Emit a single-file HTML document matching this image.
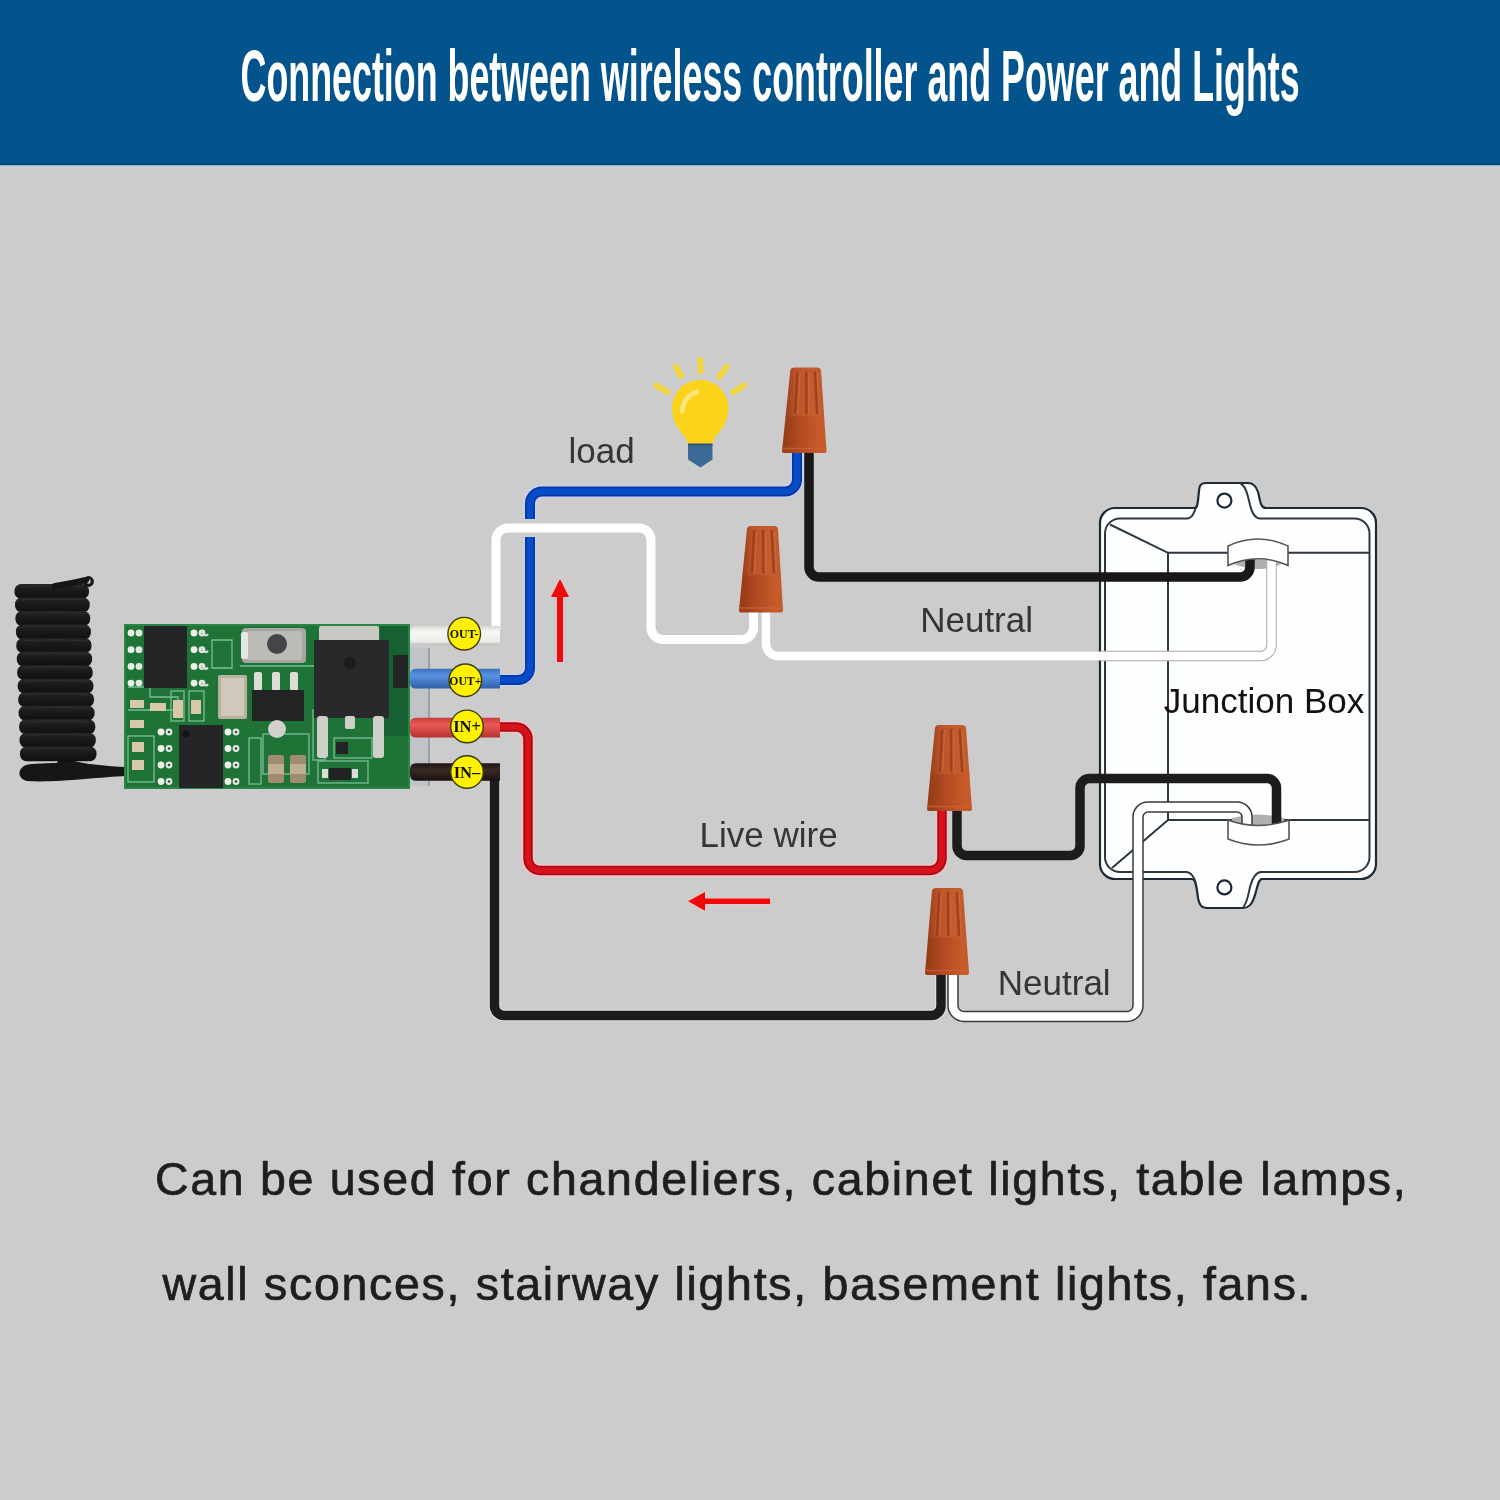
<!DOCTYPE html>
<html><head><meta charset="utf-8">
<style>
html,body{margin:0;padding:0;width:1500px;height:1500px;overflow:hidden;background:#cccccc;}
svg{position:absolute;left:0;top:0;display:block;will-change:transform;}
</style></head><body>
<svg width="1500" height="1500" viewBox="0 0 1500 1500">
<defs>
<linearGradient id="coneT" x1="0" x2="1" y1="0" y2="0">
<stop offset="0" stop-color="#9a3c18"/><stop offset="0.25" stop-color="#b9532a"/><stop offset="0.7" stop-color="#c45c2e"/><stop offset="1" stop-color="#c05a2c"/>
</linearGradient>
<linearGradient id="coneB" x1="0" x2="1" y1="0" y2="0">
<stop offset="0" stop-color="#953a17"/><stop offset="0.4" stop-color="#b04a22"/><stop offset="0.85" stop-color="#c85b2a"/><stop offset="1" stop-color="#c4592a"/>
</linearGradient>
<linearGradient id="tubeW" x1="0" x2="0" y1="0" y2="1"><stop offset="0" stop-color="#d8d8d4"/><stop offset="0.3" stop-color="#f7f7f5"/><stop offset="0.8" stop-color="#ecece8"/><stop offset="1" stop-color="#b8b8b4"/></linearGradient>
<linearGradient id="tubeB" x1="0" x2="0" y1="0" y2="1"><stop offset="0" stop-color="#3a70c0"/><stop offset="0.35" stop-color="#5a92e0"/><stop offset="1" stop-color="#2f5fa8"/></linearGradient>
<linearGradient id="tubeR" x1="0" x2="0" y1="0" y2="1"><stop offset="0" stop-color="#c83a3a"/><stop offset="0.35" stop-color="#ea5a58"/><stop offset="1" stop-color="#b83030"/></linearGradient>
<linearGradient id="tubeK" x1="0" x2="0" y1="0" y2="1"><stop offset="0" stop-color="#1e1412"/><stop offset="0.4" stop-color="#3a2a26"/><stop offset="1" stop-color="#1a100e"/></linearGradient>
<linearGradient id="coil" x1="0" x2="0" y1="0" y2="1"><stop offset="0" stop-color="#262626"/><stop offset="0.45" stop-color="#191919"/><stop offset="1" stop-color="#101010"/></linearGradient>
</defs>
<rect x="0" y="0" width="1500" height="165" fill="#03538d"/>
<rect x="0" y="163" width="1500" height="2.5" fill="#03497c"/>
<rect x="0" y="165.5" width="1500" height="2" fill="#c4d3de"/>
<text transform="translate(240.5,101) scale(0.493,1)" font-family="Liberation Sans" font-weight="bold" font-size="72.7" fill="#ffffff">Connection between wireless controller and Power and Lights</text>
<path d="M1115,508 H1195 C1199,508 1198,490 1200,486 C1201,484 1203,483 1206,483 H1248 C1253,483 1256,486 1258,492 C1260,499 1260,508 1266,508 H1361 A15,15 0 0 1 1376,523 V864 A15,15 0 0 1 1361,879 H1262 C1258,879 1257,890 1254,898 C1252,904 1249,908 1243,908 H1206 C1201,908 1199,904 1198,898 C1197,890 1196,879 1192,879 H1115 A15,15 0 0 1 1100,864 V523 A15,15 0 0 1 1115,508 Z" fill="#fdfefe" stroke="#1d2a36" stroke-width="2.2"/>
<path d="M1120,518.5 H1187 C1192,518.5 1195,512 1196,506" fill="none" stroke="#2e3740" stroke-width="2"/>
<path d="M1240,483 C1246,486 1248,496 1250,505 C1252,513 1255,518.5 1260,518.5 H1354 A15,15 0 0 1 1369.5,533.5 V857 A15,15 0 0 1 1354.5,872 H1261 C1255,872 1252,880 1250,887 C1248,896 1247,904 1243,907" fill="none" stroke="#2e3740" stroke-width="2"/>
<path d="M1120,518.5 A15,15 0 0 0 1105,533.5 V857 A15,15 0 0 0 1120,872 H1186 C1191,872 1195,878 1196,884" fill="none" stroke="#2e3740" stroke-width="2"/>
<circle cx="1224.4" cy="500.6" r="7" fill="none" stroke="#1d2a36" stroke-width="2.2"/>
<circle cx="1224.4" cy="887.4" r="7" fill="none" stroke="#1d2a36" stroke-width="2.2"/>
<path d="M1110,524.5 L1168,552.8 H1369.5 M1168,552.8 V820 H1369.5 M1168,820 L1112,868" fill="none" stroke="#2e3740" stroke-width="2"/>
<text x="1163.8" y="713" font-family="Liberation Sans" font-size="35" fill="#111111">Junction Box</text>
<path d="M1232,563 Q1258,575 1284,563 Q1258,556 1232,563 Z" fill="#b0b0b0"/>
<path d="M1232,818 Q1258,811 1284,818 V826 Q1258,832 1232,826 Z" fill="#b0b0b0"/>
<path d="M490,680 H518 A12,12 0 0 0 530,668 V503.5 A12,12 0 0 1 542,491.5 H785 A12,12 0 0 0 797,479.5 V450" fill="none" stroke="#c6d4f2" stroke-width="13" stroke-linejoin="round" />
<path d="M490,680 H518 A12,12 0 0 0 530,668 V503.5 A12,12 0 0 1 542,491.5 H785 A12,12 0 0 0 797,479.5 V450" fill="none" stroke="#0c34a4" stroke-width="10" stroke-linejoin="round" />
<path d="M490,680 H518 A12,12 0 0 0 530,668 V503.5 A12,12 0 0 1 542,491.5 H785 A12,12 0 0 0 797,479.5 V450" fill="none" stroke="#044cc8" stroke-width="6.5" stroke-linejoin="round" />
<path d="M809,450 V567 A10,10 0 0 0 819,577 H1240 A10,10 0 0 0 1250,567 V558" fill="none" stroke="#181818" stroke-width="9.5" stroke-linejoin="round" />
<rect x="522" y="519" width="16" height="18" fill="#cccccc"/>
<path d="M496,630 V540 A12,12 0 0 1 508,528 H639 A12,12 0 0 1 651,540 V627.5 A12,12 0 0 0 663,639.5 H741.5 A12,12 0 0 0 753.5,627.5 V608" fill="none" stroke="#ffffff" stroke-width="9" stroke-linejoin="round" />
<path d="M1100,656 H1260 A11,11 0 0 0 1271.5,645 V560" fill="none" stroke="#a8a8a8" stroke-width="10.5" stroke-linejoin="round" />
<path d="M766,608 V644 A12,12 0 0 0 778,656 H1260 A11,11 0 0 0 1271.5,645 V560" fill="none" stroke="#ffffff" stroke-width="8.5" stroke-linejoin="round" />
<path d="M490,727 H516 A12,12 0 0 1 528,739 V858.5 A12,12 0 0 0 540,870.5 H930 A12,12 0 0 0 942,858.5 V808" fill="none" stroke="#f0c4c4" stroke-width="13.5" stroke-linejoin="round" />
<path d="M490,727 H516 A12,12 0 0 1 528,739 V858.5 A12,12 0 0 0 540,870.5 H930 A12,12 0 0 0 942,858.5 V808" fill="none" stroke="#a20c18" stroke-width="9.5" stroke-linejoin="round" />
<path d="M490,727 H516 A12,12 0 0 1 528,739 V858.5 A12,12 0 0 0 540,870.5 H930 A12,12 0 0 0 942,858.5 V808" fill="none" stroke="#d8111a" stroke-width="6" stroke-linejoin="round" />
<path d="M494.5,772 V1006 A9.5,9.5 0 0 0 504,1015.5 H931.5 A9.5,9.5 0 0 0 941,1006 V972" fill="none" stroke="#e2e2e2" stroke-width="11.5" stroke-linejoin="round" />
<path d="M494.5,772 V1006 A9.5,9.5 0 0 0 504,1015.5 H931.5 A9.5,9.5 0 0 0 941,1006 V972" fill="none" stroke="#1c1c1c" stroke-width="9.5" stroke-linejoin="round" />
<path d="M953,972 V1005.5 A11,11 0 0 0 964,1016.5 H1127 A11,11 0 0 0 1138,1005.5 V817 A10,10 0 0 1 1148,807 H1237 A10,10 0 0 1 1247,817 V825" fill="none" stroke="#3a3a3a" stroke-width="11.5" stroke-linejoin="round" />
<path d="M953,972 V1005.5 A11,11 0 0 0 964,1016.5 H1127 A11,11 0 0 0 1138,1005.5 V817 A10,10 0 0 1 1148,807 H1237 A10,10 0 0 1 1247,817 V825" fill="none" stroke="#ffffff" stroke-width="8.5" stroke-linejoin="round" />
<path d="M957,808 V846 A9.5,9.5 0 0 0 966.5,855.5 H1070.5 A9.5,9.5 0 0 0 1080,846 V788 A9.5,9.5 0 0 1 1089.5,778.5 H1267 A9.5,9.5 0 0 1 1276.5,788 V826" fill="none" stroke="#1c1c1c" stroke-width="9.5" stroke-linejoin="round" />
<path d="M1228,546 Q1258,532 1288,546 V565.5 Q1258,552 1228,565.5 Z" fill="#ffffff" stroke="#555" stroke-width="1.6"/>
<path d="M1228,820 Q1258,831 1289,820 V839 Q1258,851 1228,839 Z" fill="#ffffff" stroke="#555" stroke-width="1.6"/>
<path d="M790.3,370.5 Q790.8,367.5 794.3,367.5 H817.0 Q820.5,367.5 821.0,370.5 L824.2,417.2 L785.5,417.2 Z" fill="url(#coneT)"/>
<path d="M785.6,416.2 H824.1 L826.5,451.0 Q826.5,453.0 824.5,453.0 H784.0 Q782.0,453.0 782.0,451.0 Z" fill="url(#coneB)"/>
<path d="M782.4,448.5 H826.2" stroke="#cf6434" stroke-width="1.6" opacity="0.7"/>
<path d="M797.4,372.5 L795.2,413.2" stroke="#973d19" stroke-width="2.6" stroke-linecap="round" opacity="0.8"/>
<path d="M799.8,373.5 L797.6,413.2" stroke="#d46c3c" stroke-width="1.6" stroke-linecap="round" opacity="0.6"/>
<path d="M806.3,372.5 L806.4,413.2" stroke="#973d19" stroke-width="2.6" stroke-linecap="round" opacity="0.8"/>
<path d="M808.7,373.5 L808.8,413.2" stroke="#d46c3c" stroke-width="1.6" stroke-linecap="round" opacity="0.6"/>
<path d="M814.9,372.5 L817.2,413.2" stroke="#973d19" stroke-width="2.6" stroke-linecap="round" opacity="0.8"/>
<path d="M817.3,373.5 L819.6,413.2" stroke="#d46c3c" stroke-width="1.6" stroke-linecap="round" opacity="0.6"/>
<path d="M747.0,529.0 Q747.5,526.0 751.0,526.0 H774.0 Q777.5,526.0 778.0,529.0 L780.9,576.3 L742.3,576.3 Z" fill="url(#coneT)"/>
<path d="M742.4,575.3 H780.9 L783.0,610.5 Q783.0,612.5 781.0,612.5 H741.0 Q739.0,612.5 739.0,610.5 Z" fill="url(#coneB)"/>
<path d="M739.4,608.0 H782.7" stroke="#cf6434" stroke-width="1.6" opacity="0.7"/>
<path d="M754.1,531.0 L752.1,572.3" stroke="#973d19" stroke-width="2.6" stroke-linecap="round" opacity="0.8"/>
<path d="M756.5,532.0 L754.5,572.3" stroke="#d46c3c" stroke-width="1.6" stroke-linecap="round" opacity="0.6"/>
<path d="M763.1,531.0 L763.3,572.3" stroke="#973d19" stroke-width="2.6" stroke-linecap="round" opacity="0.8"/>
<path d="M765.5,532.0 L765.7,572.3" stroke="#d46c3c" stroke-width="1.6" stroke-linecap="round" opacity="0.6"/>
<path d="M771.8,531.0 L774.0,572.3" stroke="#973d19" stroke-width="2.6" stroke-linecap="round" opacity="0.8"/>
<path d="M774.2,532.0 L776.4,572.3" stroke="#d46c3c" stroke-width="1.6" stroke-linecap="round" opacity="0.6"/>
<path d="M935.0,728.0 Q935.5,725.0 939.0,725.0 H962.0 Q965.5,725.0 966.0,728.0 L969.5,775.0 L930.3,775.0 Z" fill="url(#coneT)"/>
<path d="M930.4,774.0 H969.4 L972.0,809.0 Q972.0,811.0 970.0,811.0 H929.0 Q927.0,811.0 927.0,809.0 Z" fill="url(#coneB)"/>
<path d="M927.4,806.5 H971.7" stroke="#cf6434" stroke-width="1.6" opacity="0.7"/>
<path d="M942.1,730.0 L940.0,771.0" stroke="#973d19" stroke-width="2.6" stroke-linecap="round" opacity="0.8"/>
<path d="M944.5,731.0 L942.4,771.0" stroke="#d46c3c" stroke-width="1.6" stroke-linecap="round" opacity="0.6"/>
<path d="M951.1,730.0 L951.3,771.0" stroke="#973d19" stroke-width="2.6" stroke-linecap="round" opacity="0.8"/>
<path d="M953.5,731.0 L953.7,771.0" stroke="#d46c3c" stroke-width="1.6" stroke-linecap="round" opacity="0.6"/>
<path d="M959.8,730.0 L962.2,771.0" stroke="#973d19" stroke-width="2.6" stroke-linecap="round" opacity="0.8"/>
<path d="M962.2,731.0 L964.6,771.0" stroke="#d46c3c" stroke-width="1.6" stroke-linecap="round" opacity="0.6"/>
<path d="M932.0,891.0 Q932.5,888.0 936.0,888.0 H959.0 Q962.5,888.0 963.0,891.0 L966.5,938.6 L927.9,938.6 Z" fill="url(#coneT)"/>
<path d="M928.0,937.6 H966.4 L969.0,973.0 Q969.0,975.0 967.0,975.0 H927.0 Q925.0,975.0 925.0,973.0 Z" fill="url(#coneB)"/>
<path d="M925.4,970.5 H968.7" stroke="#cf6434" stroke-width="1.6" opacity="0.7"/>
<path d="M939.1,893.0 L937.1,934.6" stroke="#973d19" stroke-width="2.6" stroke-linecap="round" opacity="0.8"/>
<path d="M941.5,894.0 L939.5,934.6" stroke="#d46c3c" stroke-width="1.6" stroke-linecap="round" opacity="0.6"/>
<path d="M948.1,893.0 L948.3,934.6" stroke="#973d19" stroke-width="2.6" stroke-linecap="round" opacity="0.8"/>
<path d="M950.5,894.0 L950.7,934.6" stroke="#d46c3c" stroke-width="1.6" stroke-linecap="round" opacity="0.6"/>
<path d="M956.8,893.0 L959.0,934.6" stroke="#973d19" stroke-width="2.6" stroke-linecap="round" opacity="0.8"/>
<path d="M959.2,894.0 L961.4,934.6" stroke="#d46c3c" stroke-width="1.6" stroke-linecap="round" opacity="0.6"/>
<path d="M557,662 V597 H551 L560,579 L569,597 H563 V662 Z" fill="#ee0a0a" stroke="#f3c4c4" stroke-width="1.4" stroke-linejoin="round" paint-order="stroke"/>
<path d="M770,898.5 H705 V892 L688,901.3 L705,910.7 V904 H770 Z" fill="#ee0a0a" stroke="#f3c4c4" stroke-width="1.4" stroke-linejoin="round" paint-order="stroke"/>
<g stroke="#f2d53c" stroke-width="6" stroke-linecap="round"><line x1="700.4" y1="360" x2="700.4" y2="371"/><line x1="676" y1="367" x2="681" y2="376"/><line x1="726.5" y1="367" x2="719.5" y2="376.5"/><line x1="656.5" y1="385.5" x2="667.5" y2="392"/><line x1="744" y1="385.5" x2="733.5" y2="392"/></g>
<path d="M688,444 C686,434 672,428 672,408 A28.2,28.2 0 0 1 728.4,408 C728.4,428 714,434 712.5,444 Z" fill="#fbd31a"/>
<path d="M682,411 Q684,396 697,392" fill="none" stroke="#fde57e" stroke-width="4.5" stroke-linecap="round"/>
<path d="M688,444 H712.5 V459.5 L700.4,467.5 L688,459.5 Z" fill="#3b6a97"/>
<rect x="688" y="443.5" width="24.5" height="1.6" fill="#2f4f6a"/>
<g font-family="Liberation Sans" font-size="35" fill="#353535"><text x="568.5" y="462.7">load</text><text x="920.2" y="632.4">Neutral</text><text x="699.5" y="846.7">Live wire</text><text x="997.8" y="995">Neutral</text></g>
<g font-family="Liberation Sans" font-size="46.5" fill="#1e1e1e" stroke="#1e1e1e" stroke-width="0.7" letter-spacing="1.7"><text x="155" y="1195.2">Can be used for chandeliers, cabinet lights, table lamps,</text><text x="162.5" y="1300">wall sconces, stairway lights, basement lights, fans.</text></g>
<path d="M126,767 C105,767 85,762 55,763 C35,763.5 27,764 24,766 C17,770 18,779 27,781 C55,783 100,777 126,776 Z" fill="#161616"/>
<path d="M60,758 C80,762 95,766 112,768 L112,772 C90,771 70,768 55,766 Z" fill="#161616"/>
<rect x="14.5" y="584.0" width="74.5" height="14.7" rx="6.5" ry="6.5" fill="url(#coil)"/>
<path d="M20.5,586.5 Q51.8,584.8 83.0,586.5" fill="none" stroke="#333" stroke-width="1.2" opacity="0.6"/>
<rect x="15.0" y="597.5" width="74.7" height="14.7" rx="6.5" ry="6.5" fill="url(#coil)"/>
<path d="M21.0,600.0 Q52.3,598.3 83.6,600.0" fill="none" stroke="#333" stroke-width="1.2" opacity="0.6"/>
<rect x="15.4" y="611.1" width="74.8" height="14.7" rx="6.5" ry="6.5" fill="url(#coil)"/>
<path d="M21.4,613.6 Q52.8,611.9 84.2,613.6" fill="none" stroke="#333" stroke-width="1.2" opacity="0.6"/>
<rect x="15.9" y="624.6" width="75.0" height="14.7" rx="6.5" ry="6.5" fill="url(#coil)"/>
<path d="M21.9,627.1 Q53.4,625.4 84.9,627.1" fill="none" stroke="#333" stroke-width="1.2" opacity="0.6"/>
<rect x="16.3" y="638.2" width="75.2" height="14.7" rx="6.5" ry="6.5" fill="url(#coil)"/>
<path d="M22.3,640.7 Q53.9,639.0 85.5,640.7" fill="none" stroke="#333" stroke-width="1.2" opacity="0.6"/>
<rect x="16.8" y="651.7" width="75.3" height="14.7" rx="6.5" ry="6.5" fill="url(#coil)"/>
<path d="M22.8,654.2 Q54.5,652.5 86.1,654.2" fill="none" stroke="#333" stroke-width="1.2" opacity="0.6"/>
<rect x="17.2" y="665.2" width="75.5" height="14.7" rx="6.5" ry="6.5" fill="url(#coil)"/>
<path d="M23.2,667.7 Q55.0,666.0 86.8,667.7" fill="none" stroke="#333" stroke-width="1.2" opacity="0.6"/>
<rect x="17.7" y="678.8" width="75.7" height="14.7" rx="6.5" ry="6.5" fill="url(#coil)"/>
<path d="M23.7,681.3 Q55.5,679.6 87.4,681.3" fill="none" stroke="#333" stroke-width="1.2" opacity="0.6"/>
<rect x="18.2" y="692.3" width="75.8" height="14.7" rx="6.5" ry="6.5" fill="url(#coil)"/>
<path d="M24.2,694.8 Q56.1,693.1 88.0,694.8" fill="none" stroke="#333" stroke-width="1.2" opacity="0.6"/>
<rect x="18.6" y="705.8" width="76.0" height="14.7" rx="6.5" ry="6.5" fill="url(#coil)"/>
<path d="M24.6,708.3 Q56.6,706.6 88.6,708.3" fill="none" stroke="#333" stroke-width="1.2" opacity="0.6"/>
<rect x="19.1" y="719.4" width="76.2" height="14.7" rx="6.5" ry="6.5" fill="url(#coil)"/>
<path d="M25.1,721.9 Q57.2,720.2 89.2,721.9" fill="none" stroke="#333" stroke-width="1.2" opacity="0.6"/>
<rect x="19.5" y="732.9" width="76.3" height="14.7" rx="6.5" ry="6.5" fill="url(#coil)"/>
<path d="M25.5,735.4 Q57.7,733.7 89.9,735.4" fill="none" stroke="#333" stroke-width="1.2" opacity="0.6"/>
<rect x="20.0" y="746.5" width="76.5" height="14.7" rx="6.5" ry="6.5" fill="url(#coil)"/>
<path d="M26.0,749.0 Q58.2,747.3 90.5,749.0" fill="none" stroke="#333" stroke-width="1.2" opacity="0.6"/>
<path d="M55,586 C68,584 78,582 86,580" fill="none" stroke="#161616" stroke-width="6" stroke-linecap="round"/>
<circle cx="88.5" cy="581.5" r="3.8" fill="none" stroke="#161616" stroke-width="3.2"/>
<rect x="125" y="625" width="284" height="163" fill="#1f7337"/>
<rect x="125" y="625" width="284" height="163" fill="none" stroke="#2a8444" stroke-width="2"/>
<rect x="380" y="626" width="28" height="110" fill="#166032"/>
<g fill="none" stroke="#8fd0b0" stroke-width="1.3" opacity="0.8"><path d="M128,687 H150 V697 H178 V710 H128"/><rect x="171" y="691" width="13" height="30"/><rect x="189" y="691" width="15" height="30"/><path d="M212,640 H232 V668 H212 Z"/><rect x="128" y="736" width="26" height="46"/><rect x="249" y="738" width="12" height="46"/><rect x="263" y="734" width="46" height="40"/><rect x="313" y="710" width="12" height="50"/><rect x="318" y="761" width="50" height="22"/><rect x="334" y="738" width="38" height="20"/><path d="M240,666 H320"/></g>
<rect x="144" y="626" width="43" height="62" fill="#242527"/>
<circle cx="131.0" cy="633.0" r="3.4" fill="#eef0ea"/><circle cx="139.0" cy="633.0" r="3.4" fill="#e4e8e2"/>
<circle cx="194.0" cy="633.0" r="3.4" fill="#eef0ea"/><circle cx="202.0" cy="633.0" r="3.4" fill="#e4e8e2"/>
<circle cx="202.0" cy="633.0" r="1.3" fill="#3a4a40"/>
<path d="M200.0,634.0 q2,-3 4,0 t4,0" fill="none" stroke="#dfe3dc" stroke-width="2"/>
<circle cx="131.0" cy="649.7" r="3.4" fill="#eef0ea"/><circle cx="139.0" cy="649.7" r="3.4" fill="#e4e8e2"/>
<circle cx="194.0" cy="649.7" r="3.4" fill="#eef0ea"/><circle cx="202.0" cy="649.7" r="3.4" fill="#e4e8e2"/>
<circle cx="202.0" cy="649.7" r="1.3" fill="#3a4a40"/>
<path d="M200.0,650.7 q2,-3 4,0 t4,0" fill="none" stroke="#dfe3dc" stroke-width="2"/>
<circle cx="131.0" cy="666.4" r="3.4" fill="#eef0ea"/><circle cx="139.0" cy="666.4" r="3.4" fill="#e4e8e2"/>
<circle cx="194.0" cy="666.4" r="3.4" fill="#eef0ea"/><circle cx="202.0" cy="666.4" r="3.4" fill="#e4e8e2"/>
<circle cx="202.0" cy="666.4" r="1.3" fill="#3a4a40"/>
<path d="M200.0,667.4 q2,-3 4,0 t4,0" fill="none" stroke="#dfe3dc" stroke-width="2"/>
<circle cx="131.0" cy="683.1" r="3.4" fill="#eef0ea"/><circle cx="139.0" cy="683.1" r="3.4" fill="#e4e8e2"/>
<circle cx="194.0" cy="683.1" r="3.4" fill="#eef0ea"/><circle cx="202.0" cy="683.1" r="3.4" fill="#e4e8e2"/>
<circle cx="202.0" cy="683.1" r="1.3" fill="#3a4a40"/>
<path d="M200.0,684.1 q2,-3 4,0 t4,0" fill="none" stroke="#dfe3dc" stroke-width="2"/>
<rect x="179" y="725" width="44" height="63" fill="#242527"/>
<circle cx="186" cy="734" r="3.5" fill="#141516"/>
<circle cx="161.0" cy="732.0" r="3.4" fill="#eef0ea"/><circle cx="169.0" cy="732.0" r="3.4" fill="#e4e8e2"/>
<circle cx="169.0" cy="732.0" r="1.3" fill="#3a4a40"/>
<circle cx="228.0" cy="732.0" r="3.4" fill="#eef0ea"/><circle cx="236.0" cy="732.0" r="3.4" fill="#e4e8e2"/>
<circle cx="236.0" cy="732.0" r="1.3" fill="#3a4a40"/>
<circle cx="161.0" cy="748.5" r="3.4" fill="#eef0ea"/><circle cx="169.0" cy="748.5" r="3.4" fill="#e4e8e2"/>
<circle cx="169.0" cy="748.5" r="1.3" fill="#3a4a40"/>
<circle cx="228.0" cy="748.5" r="3.4" fill="#eef0ea"/><circle cx="236.0" cy="748.5" r="3.4" fill="#e4e8e2"/>
<circle cx="236.0" cy="748.5" r="1.3" fill="#3a4a40"/>
<circle cx="161.0" cy="765.0" r="3.4" fill="#eef0ea"/><circle cx="169.0" cy="765.0" r="3.4" fill="#e4e8e2"/>
<circle cx="169.0" cy="765.0" r="1.3" fill="#3a4a40"/>
<circle cx="228.0" cy="765.0" r="3.4" fill="#eef0ea"/><circle cx="236.0" cy="765.0" r="3.4" fill="#e4e8e2"/>
<circle cx="236.0" cy="765.0" r="1.3" fill="#3a4a40"/>
<circle cx="161.0" cy="781.5" r="3.4" fill="#eef0ea"/><circle cx="169.0" cy="781.5" r="3.4" fill="#e4e8e2"/>
<circle cx="169.0" cy="781.5" r="1.3" fill="#3a4a40"/>
<circle cx="228.0" cy="781.5" r="3.4" fill="#eef0ea"/><circle cx="236.0" cy="781.5" r="3.4" fill="#e4e8e2"/>
<circle cx="236.0" cy="781.5" r="1.3" fill="#3a4a40"/>
<rect x="130" y="700" width="14" height="8" fill="#d6c8a8"/>
<rect x="150" y="703" width="16" height="8" fill="#d6c8a8"/>
<rect x="130" y="720" width="14" height="8" fill="#d6c8a8"/>
<rect x="132" y="742" width="12" height="10" fill="#d6c8a8"/>
<rect x="132" y="760" width="12" height="10" fill="#d6c8a8"/>
<rect x="173" y="700" width="10" height="18" fill="#d6c8a8"/>
<rect x="191" y="700" width="10" height="14" fill="#d6c8a8"/>
<rect x="218" y="675" width="29" height="44" rx="2" fill="#b8b0a0"/>
<rect x="221" y="678" width="23" height="38" fill="#cfc9bc"/>
<rect x="242" y="628" width="64" height="35" rx="4" fill="#a7a6a2"/>
<rect x="246" y="631" width="56" height="29" rx="3" fill="#bcbbb6"/>
<circle cx="277" cy="644" r="10" fill="#444546"/>
<rect x="241" y="632" width="7" height="27" rx="2" fill="#e6e6e2"/>
<rect x="254" y="672" width="8" height="19" rx="2" fill="#dcdcd8"/>
<rect x="272" y="672" width="8" height="19" rx="2" fill="#dcdcd8"/>
<rect x="290" y="672" width="8" height="19" rx="2" fill="#dcdcd8"/>
<rect x="252" y="690" width="52" height="31" fill="#222324"/>
<circle cx="277" cy="729" r="9" fill="#d0d0cc"/>
<rect x="268" y="755" width="16" height="28" rx="2" fill="#a08c6e"/>
<rect x="290" y="755" width="16" height="28" rx="2" fill="#a08c6e"/>
<rect x="268" y="764" width="16" height="10" fill="#c0ae90"/>
<rect x="290" y="764" width="16" height="10" fill="#c0ae90"/>
<rect x="319" y="626" width="60" height="15" rx="2" fill="#c9c9c4"/>
<rect x="314" y="640" width="75" height="78" fill="#28292b"/>
<circle cx="350" cy="663" r="6" fill="#1a1b1c"/>
<rect x="317" y="716" width="11" height="42" rx="3" fill="#cfcfca"/>
<rect x="373" y="716" width="11" height="42" rx="3" fill="#cfcfca"/>
<rect x="345" y="716" width="10" height="13" rx="2" fill="#cfcfca"/>
<rect x="336" y="742" width="12" height="12" fill="#232425"/>
<rect x="329" y="768" width="22" height="12" fill="#222"/>
<rect x="322" y="769" width="6" height="9" fill="#ddd"/>
<rect x="352" y="769" width="6" height="9" fill="#ddd"/>
<rect x="393" y="655" width="15" height="33" fill="#232425"/>
<rect x="410" y="647.5" width="20" height="139" fill="#c0c4c9"/>
<line x1="429" y1="648" x2="429" y2="786" stroke="#8f949a" stroke-width="1.5"/>
<path d="M500,626.0 H416 Q410,626.0 410,632.0 V639.3 Q410,645.3 416,645.3 H500 Z" fill="url(#tubeW)"/>
<path d="M500,668.7 H416 Q410,668.7 410,674.7 V682.5 Q410,688.5 416,688.5 H500 Z" fill="url(#tubeB)"/>
<path d="M500,717.7 H416 Q410,717.7 410,723.7 V731.5 Q410,737.5 416,737.5 H500 Z" fill="url(#tubeR)"/>
<path d="M500,763.2 H416 Q410,763.2 410,769.2 V774.7 Q410,780.7 416,780.7 H500 Z" fill="url(#tubeK)"/>
<circle cx="464.2" cy="633.7" r="16.3" fill="#fff100" stroke="#3a3a10" stroke-width="1.4"/>
<text transform="translate(464.2,638.2) scale(0.92,1)" text-anchor="middle" font-family="Liberation Serif" font-weight="bold" font-size="13.0" fill="#111">OUT-</text>
<circle cx="465.3" cy="680.3" r="16.3" fill="#fff100" stroke="#3a3a10" stroke-width="1.4"/>
<text transform="translate(465.3,684.8) scale(0.90,1)" text-anchor="middle" font-family="Liberation Serif" font-weight="bold" font-size="13.0" fill="#111">OUT+</text>
<circle cx="467.0" cy="726.4" r="16.3" fill="#fff100" stroke="#3a3a10" stroke-width="1.4"/>
<text transform="translate(467.0,732.2) scale(1.00,1)" text-anchor="middle" font-family="Liberation Serif" font-weight="bold" font-size="16.5" fill="#111">IN+</text>
<circle cx="467.0" cy="772.0" r="16.3" fill="#fff100" stroke="#3a3a10" stroke-width="1.4"/>
<text transform="translate(467.0,777.8) scale(1.00,1)" text-anchor="middle" font-family="Liberation Serif" font-weight="bold" font-size="16.5" fill="#111">IN–</text>
</svg>
</body></html>
